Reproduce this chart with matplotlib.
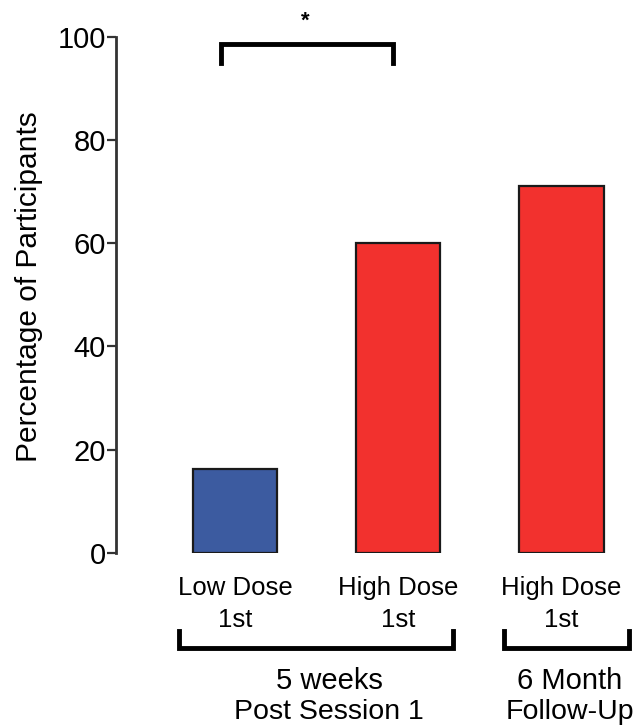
import matplotlib
matplotlib.use('Agg')
import matplotlib.pyplot as plt
import numpy as np

plt.rcParams['font.family'] = ['Liberation Sans', 'DejaVu Sans']

#  Data
bar_line1 = ['Low Dose', 'High Dose', 'High Dose']
bar_line2 = ['1st', '1st', '1st']
values = [16.2, 60.0, 71.0]
colors = ['#3c5ba0', '#f2312e', '#f2312e']
yticks = [0, 20, 40, 60, 80, 100]
groups = [('5 weeks', 'Post Session 1'), ('6 Month', 'Follow-Up')]
group_spans = [(-0.344, 1.337), (1.65, 2.411)]
group_centers = [0.575, 2.05]

fig = plt.figure(figsize=(6.39, 7.26), dpi=100)
ax = fig.add_axes([0.1823, 0.2387, 0.8177, 0.7107])

x = np.arange(len(values))
ax.bar(x, values, width=0.515, color=colors, edgecolor='#1a1a1a', linewidth=1.6, zorder=3)

ax.set_xlim(-0.727, 2.475)
ax.set_ylim(0, 100)
ax.set_yticks(yticks)
ax.set_yticklabels([str(t) for t in yticks], fontsize=21)
ax.tick_params(axis='y', length=6.5, width=1.6, pad=1, color='#333333')
ax.set_xticks([])

for s in ['top', 'right', 'bottom']:
    ax.spines[s].set_visible(False)
ax.spines['left'].set_bounds(0, 100)
ax.spines['left'].set_linewidth(2)
ax.spines['left'].set_color('#333333')

fig.text(29 / 639, 0.6054, 'Percentage of Participants', rotation=90,
         ha='center', va='center', fontsize=21.5)

# bar labels, two lines each
for xi, l1, l2 in zip(x, bar_line1, bar_line2):
    ax.text(xi, -8.2, l1, ha='center', va='baseline', fontsize=18.5, clip_on=False)
    ax.text(xi, -14.4, l2, ha='center', va='baseline', fontsize=18.5, clip_on=False)

# group brackets under the bars
for (x0, x1), (g1, g2), gc in zip(group_spans, groups, group_centers):
    ax.plot([x0, x0, x1, x1], [-15.2, -18.5, -18.5, -15.2], color='black',
            lw=3.5, solid_joinstyle='miter', clip_on=False)
    ax.text(gc, -26.4, g1, ha='center', va='baseline', fontsize=21, clip_on=False)
    ax.text(gc, -32.3, g2, ha='center', va='baseline', fontsize=20.5, clip_on=False)

# significance bracket
ax.plot([-0.086, -0.086, 0.966, 0.966], [94.9, 98.6, 98.6, 94.9], color='black',
        lw=3.5, solid_joinstyle='miter', clip_on=False)
ax.text(0.43, 103.0, '*', ha='center', va='center', fontsize=16, fontweight='bold', clip_on=False)

fig.savefig('out.png', dpi=100)
